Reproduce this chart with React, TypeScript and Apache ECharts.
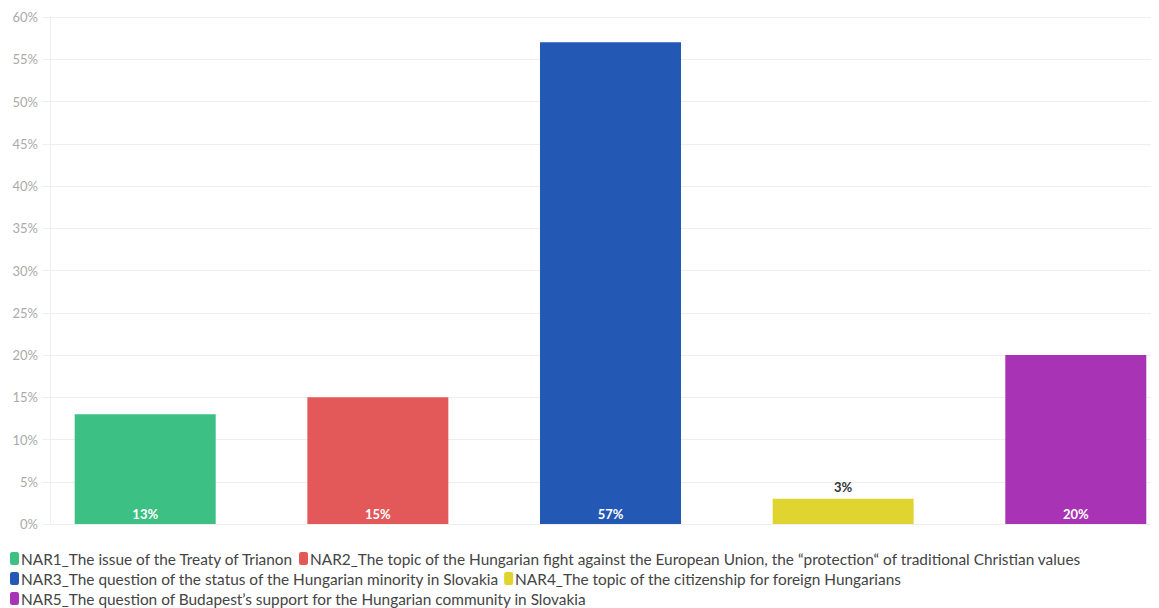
import React, { useEffect, useRef } from "react";
import * as echarts from "echarts";

const seriesNames = [
  "NAR1_The issue of the Treaty of Trianon",
  "NAR2_The topic of the Hungarian fight against the European Union, the \u201cprotection\u201c of traditional Christian values",
  "NAR3_The question of the status of the Hungarian minority in Slovakia",
  "NAR4_The topic of the citizenship for foreign Hungarians",
  "NAR5_The question of Budapest\u2019s support for the Hungarian community in Slovakia",
];
const values = [13, 15, 57, 3, 20];
const colors = ["#3cc084", "#e35959", "#2358b5", "#e0d431", "#a933b5"];
const categories = [""];

export default function App() {
  const ref = useRef<HTMLDivElement>(null);
  useEffect(() => {
    if (!ref.current) return;
    const chart = echarts.init(ref.current, null, { renderer: "svg" });
    const font = "'Source Sans Pro', Lato, 'Noto Sans', sans-serif";
    chart.setOption({
      animation: false,
      textStyle: { fontFamily: font },
      grid: { left: 42, top: 9, height: 507, width: 1121, containLabel: false },
      legend: {
        left: 2,
        top: 543,
        width: 1110,
        padding: 0,
        itemWidth: 9,
        itemHeight: 13,
        itemGap: 5,
        icon: "roundRect",
        textStyle: { fontSize: 15.4, color: "#444", fontFamily: font, padding: [0, 0, 0, -3] },
        data: seriesNames,
      },
      xAxis: {
        type: "category",
        data: categories,
        axisLine: { show: true, lineStyle: { color: "#eee" } },
        axisTick: { show: false },
        axisLabel: { show: false },
      },
      yAxis: {
        type: "value",
        min: 0,
        max: 60,
        interval: 5,
        axisLine: { show: true, lineStyle: { color: "#eee" } },
        axisTick: { show: true, length: 8, lineStyle: { color: "#eee" } },
        splitLine: { lineStyle: { color: "#eee" } },
        axisLabel: { formatter: "{value}%", color: "#aaa", fontSize: 13, margin: 12 },
      },
      series: seriesNames.map((name, i) => ({
        name,
        type: "bar",
        data: [values[i]],
        barWidth: 141,
        barGap: "65%",
        itemStyle: { color: colors[i] },
        label: {
          show: true,
          formatter: "{c}%",
          position: values[i] < 5 ? "top" : "insideBottom",
          distance: values[i] < 5 ? 5 : 4,
          color: values[i] < 5 ? "#333" : "#fff",
          fontWeight: "bold",
          fontSize: 13,
        },
      })),
    });
    return () => chart.dispose();
  }, []);
  return (
    <div style={{ width: 1151, height: 600, overflow: "hidden", marginRight: -8 }}>
      <div ref={ref} style={{ width: 1180, height: 600 }} />
    </div>
  );
}
